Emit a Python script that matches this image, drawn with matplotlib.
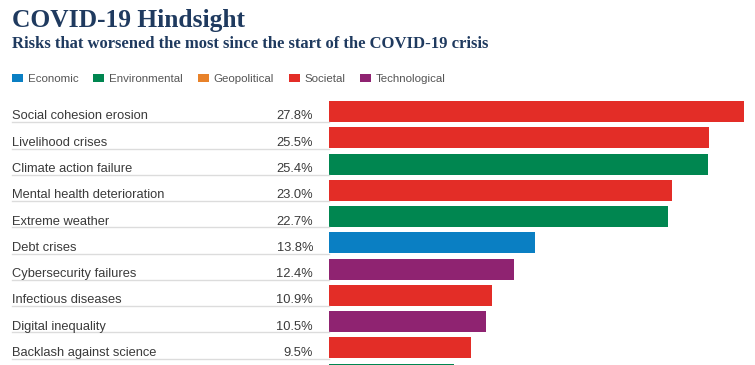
import matplotlib.pyplot as plt
from matplotlib import transforms
from matplotlib.patches import Patch

# data (last row is only a sliver at the bottom edge)
categories = ['Social cohesion erosion', 'Livelihood crises', 'Climate action failure',
              'Mental health deterioration', 'Extreme weather', 'Debt crises',
              'Cybersecurity failures', 'Infectious diseases', 'Digital inequality',
              'Backlash against science', '']
values = [27.8, 25.5, 25.4, 23.0, 22.7, 13.8, 12.4, 10.9, 10.5, 9.5, 8.4]
groups = ['Societal', 'Societal', 'Environmental', 'Societal', 'Environmental',
          'Economic', 'Technological', 'Societal', 'Technological', 'Societal',
          'Environmental']

legend_names = ['Economic', 'Environmental', 'Geopolitical', 'Societal', 'Technological']
colors = {'Economic': '#0a7fc3', 'Environmental': '#008650', 'Geopolitical': '#e8822a',
          'Societal': '#e32d27', 'Technological': '#8f2371'}

W, H = 755, 365
navy = '#1f3a5f'

fig = plt.figure(figsize=(W / 100, H / 100), dpi=100)
ax = fig.add_axes([329 / W, 0, (W - 329) / W, 1])

ypos = list(range(len(values)))
ax.barh(ypos, values, height=0.8, color=[colors[g] for g in groups])
ax.set_xlim(0, 28.55)
ax.set_ylim(9.65, -4.25)
ax.axis('off')

# labels, values and thin row rules sit left of the bars
trans = transforms.blended_transform_factory(fig.transFigure, ax.transData)
for i, (cat, val) in enumerate(zip(categories, values)):
    if not cat:
        continue
    ax.text(12 / W, i + 0.3, cat, transform=trans, ha='left', va='baseline',
            fontsize=9.3, family='Liberation Sans', color='#3a3a3a')
    ax.text(313 / W, i + 0.3, f'{val:.1f}%', transform=trans, ha='right', va='baseline',
            fontsize=9.3, family='Liberation Sans', color='#3a3a3a')
    ax.plot([12 / W, 329 / W], [i + 0.41, i + 0.41], transform=trans, clip_on=False,
            color='#dcdcdc', lw=1)

fig.text(12 / W, 1 - 26.5 / H, 'COVID-19 Hindsight', ha='left', va='baseline',
         fontsize=18.4, fontweight='bold', family='Liberation Serif', color=navy)
fig.text(12 / W, 1 - 48.3 / H, 'Risks that worsened the most since the start of the COVID-19 crisis',
         ha='left', va='baseline', fontsize=11.95, fontweight='bold', family='Liberation Serif', color=navy)

handles = [Patch(facecolor=colors[n], edgecolor='none') for n in legend_names]
leg = fig.legend(handles, legend_names, loc='upper left', bbox_to_anchor=(12 / W, 1 - 74 / H),
                 ncol=5, frameon=False, prop={'family': 'Liberation Sans', 'size': 8.25},
                 handlelength=0.97, handleheight=0.6, handletextpad=0.4,
                 columnspacing=1.3, borderpad=0, borderaxespad=0)
for t in leg.get_texts():
    t.set_color('#555555')

fig.savefig('out.png', dpi=100)
